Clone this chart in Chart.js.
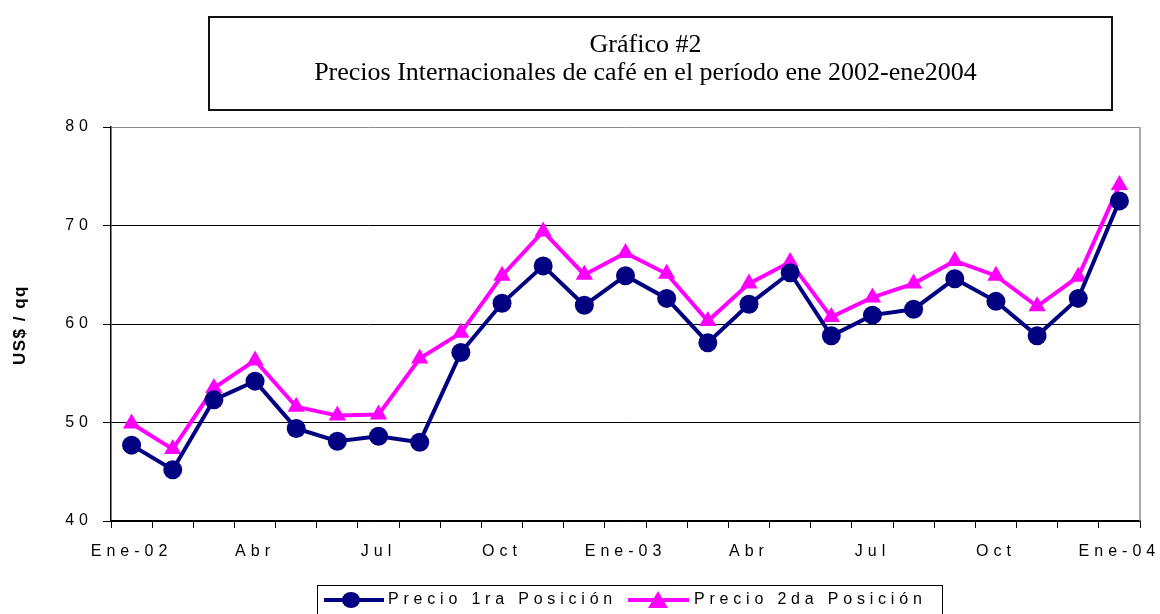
<!DOCTYPE html>
<html>
<head>
<meta charset="utf-8">
<script src="https://cdn.jsdelivr.net/npm/chart.js@4"></script>
<style>
  html, body { margin:0; padding:0; background:#fff; overflow:hidden; }
  #wrap { position:relative; width:1160px; height:614px; }
  #c { position:absolute; left:0; top:0; }
  #title { position:absolute; left:208px; top:16px; width:901px; height:91px; border:2px solid #111;
    font-family:"Liberation Serif","Times New Roman",serif; font-size:26px; line-height:28px;
    text-align:center; color:#000; box-sizing:content-box; }
  #title .in { padding-top:12px; padding-right:30px; }
  #ytitle { position:absolute; left:20px; top:325px; transform:translate(-50%,-50%) rotate(-90deg);
    font-family:"Liberation Sans",Arial,sans-serif; font-weight:bold; font-size:17px; letter-spacing:1.5px; white-space:nowrap; color:#000; }
  #legend { position:absolute; left:317px; top:585px; width:624px; height:40px; border:1px solid #000;
    font-family:"Liberation Sans",Arial,sans-serif; font-size:16px; letter-spacing:4.8px; color:#000; white-space:nowrap; }
  #legend .item { position:absolute; top:1px; height:24px; display:flex; align-items:center; }
  #legend svg { display:block; margin-right:3px; }
</style>
</head>
<body>
<div id="wrap">
  <canvas id="c" width="1160" height="614"></canvas>
  <div id="title"><div class="in">Gráfico #2<br>Precios Internacionales de café en el período ene 2002-ene2004</div></div>
  <div id="ytitle">US$ / qq</div>
  <div id="legend">
    <div class="item" style="left:5px;">
      <svg width="62" height="24"><line x1="1" y1="13" x2="61" y2="13" stroke="#000080" stroke-width="4"/><ellipse cx="28" cy="13" rx="9" ry="8" fill="#000080"/></svg>
      <span id="l1"></span>
    </div>
    <div class="item" style="left:309px;">
      <svg width="64" height="24"><line x1="1" y1="13" x2="62" y2="13" stroke="#FF00FF" stroke-width="4"/><polygon points="31,4 41,21 21,21" fill="#FF00FF"/></svg>
      <span id="l2"></span>
    </div>
  </div>
</div>
<script>
// ---- data ----
const months = ["Ene-02","Feb","Mar","Abr","May","Jun","Jul","Ago","Sep","Oct","Nov","Dic",
                "Ene-03","Feb","Mar","Abr","May","Jun","Jul","Ago","Sep","Oct","Nov","Dic","Ene-04"];
const tickLabels = ["Ene-02","Abr","Jul","Oct","Ene-03","Abr","Jul","Oct","Ene-04"];
const precio1 = [47.7,45.2,52.3,54.2,49.4,48.1,48.6,48.0,57.1,62.1,65.9,61.9,
                 64.9,62.6,58.1,62.0,65.2,58.8,60.9,61.5,64.6,62.3,58.8,62.6,72.5];
const precio2 = [49.9,47.3,53.5,56.3,51.6,50.7,50.8,56.5,59.1,64.9,69.4,65.0,
                 67.2,65.1,60.3,64.1,66.3,60.7,62.7,64.1,66.4,64.9,61.8,64.8,74.1];
const seriesNames = ["Precio 1ra Posición","Precio 2da Posición"];
const yTicks = [40,50,60,70,80];

document.getElementById('l1').textContent = seriesNames[0];
document.getElementById('l2').textContent = seriesNames[1];

const SPACING = '5px';
const spacingPlugin = {
  id: 'spacing',
  beforeUpdate(c) { c.ctx.letterSpacing = SPACING; },
  beforeLayout(c) { c.ctx.letterSpacing = SPACING; },
  beforeDraw(c) { c.ctx.letterSpacing = SPACING; }
};
const framePlugin = {
  id: 'frame',
  afterDraw(c) {
    const a = c.chartArea, ctx = c.ctx;
    ctx.save();
    ctx.strokeStyle = '#8c8c8c';
    ctx.lineWidth = 1.5;
    ctx.beginPath();
    ctx.moveTo(a.right, a.top);
    ctx.lineTo(a.right, a.bottom);
    ctx.stroke();
    ctx.restore();
  }
};

new Chart(document.getElementById('c'), {
  type: 'line',
  data: {
    labels: months,
    datasets: [
      { label: seriesNames[0], data: precio1, borderColor: '#000080', backgroundColor: '#000080',
        borderWidth: 4, pointStyle: 'circle', pointRadius: 9.5, pointBorderWidth: 0,
        pointBackgroundColor: '#000080', tension: 0 },
      { label: seriesNames[1], data: precio2, borderColor: '#FF00FF', backgroundColor: '#FF00FF',
        borderWidth: 4, pointStyle: 'triangle', pointRadius: 10, pointBorderWidth: 0,
        pointBackgroundColor: '#FF00FF', tension: 0 }
    ]
  },
  options: {
    responsive: false,
    animation: false,
    events: [],
    layout: { padding: { left: 0, top: 127, right: 20, bottom: 0 } },
    plugins: { legend: { display: false }, title: { display: false }, tooltip: { enabled: false } },
    scales: {
      x: {
        offset: true,
        afterFit(s) { s.height = 93; s.paddingLeft = 0; s.paddingRight = 0; },
        grid: { offset: true, drawOnChartArea: false, drawTicks: true, tickLength: 7, tickColor: '#000', color: '#000' },
        border: { display: true, color: '#000', width: 1.5 },
        ticks: {
          autoSkip: false, maxRotation: 0, minRotation: 0, padding: 14, color: '#000',
          font: { family: '"Liberation Sans", Arial, sans-serif', size: 16 },
          callback: (v, i) => (i % 3 === 0 ? tickLabels[i / 3] : '')
        }
      },
      y: {
        min: yTicks[0], max: yTicks[yTicks.length - 1],
        afterFit(s) { s.width = 111; s.paddingTop = 0; s.paddingBottom = 0; },
        afterBuildTicks(s) { s.ticks = yTicks.map(v => ({ value: v })); },
        grid: { color: ctx => (ctx.tick && ctx.tick.value === 80 ? '#8c8c8c' : '#000'), lineWidth: 1,
                tickLength: 8, tickColor: '#000', drawTicks: true },
        border: { display: true, color: '#000', width: 1.5 },
        ticks: { padding: 10, color: '#000', font: { family: '"Liberation Sans", Arial, sans-serif', size: 16 } }
      }
    }
  },
  plugins: [spacingPlugin, framePlugin]
});
</script>
</body>
</html>
